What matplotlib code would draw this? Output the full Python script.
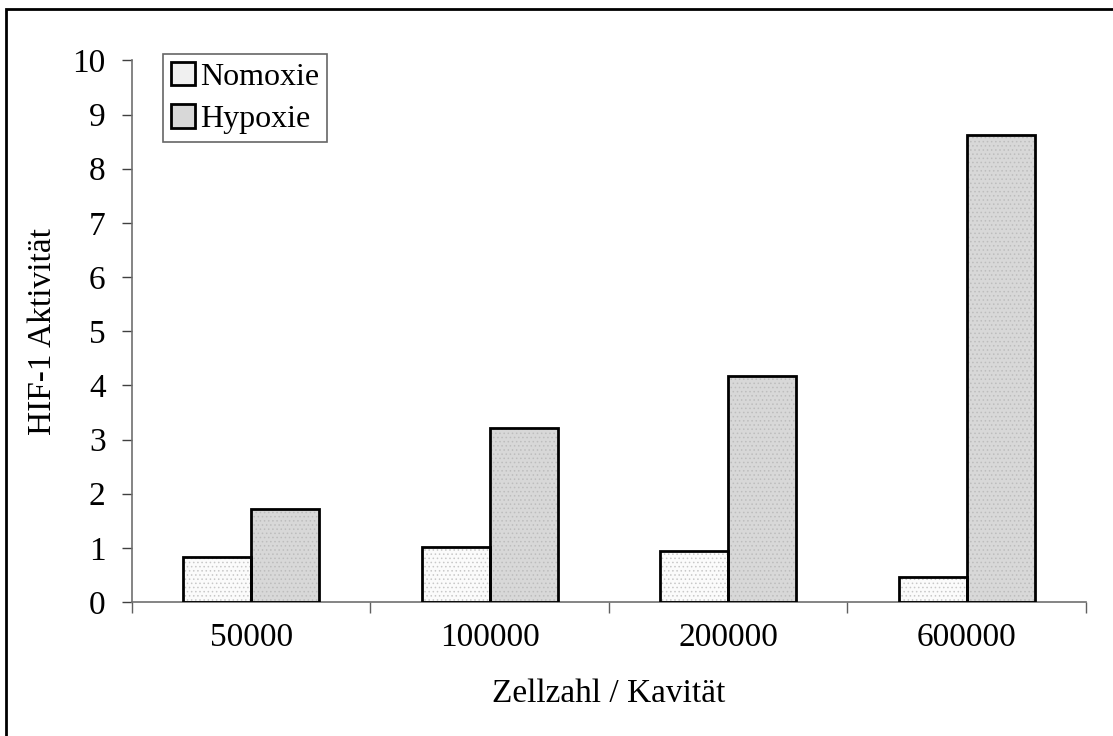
import numpy as np
import matplotlib
matplotlib.use("Agg")
import matplotlib.pyplot as plt
from matplotlib.patches import Rectangle, Patch

# Daten aus dem Diagramm
zellzahl = ["50000", "100000", "200000", "600000"]
nomoxie = [0.83, 1.02, 0.95, 0.47]
hypoxie = [1.72, 3.22, 4.17, 8.62]
y_ticks = list(range(0, 11))

plt.rcParams['font.family'] = ['Liberation Serif', 'DejaVu Serif']
plt.rcParams['hatch.linewidth'] = 0.6

fig = plt.figure(figsize=(11.13, 7.36), dpi=100)
ax = fig.add_axes([0.1186, 0.182, 0.8571, 0.736])

x = np.arange(len(zellzahl))
w = 0.286
fs = 24

# Füllung mit Punktmuster (Schraffur in grau), danach schwarzer Rahmen
ax.bar(x - w / 2, nomoxie, w, color='#fbfbfb', edgecolor='#c8c8c8',
       hatch='....', linewidth=0, zorder=2)
ax.bar(x + w / 2, hypoxie, w, color='#d8d8d8', edgecolor='#bdbdbd',
       hatch='....', linewidth=0, zorder=2)
ax.bar(x - w / 2, nomoxie, w, fill=False, edgecolor='black', linewidth=2, zorder=3)
ax.bar(x + w / 2, hypoxie, w, fill=False, edgecolor='black', linewidth=2, zorder=3)

ax.set_xlim(-0.5, len(zellzahl) - 0.5)
ax.set_ylim(0, 10)
ax.set_yticks(y_ticks)
ax.set_xticks(x)
ax.set_xticklabels(zellzahl)
ax.set_xticks(np.arange(-0.5, len(zellzahl)), minor=True)
ax.tick_params(axis='x', which='major', length=0, pad=15, labelsize=fs)
ax.tick_params(axis='x', which='minor', length=8, width=1, color='#606060', direction='out')
ax.tick_params(axis='y', length=7, width=1, color='#404040', pad=12, labelsize=fs)

for s in ['top', 'right']:
    ax.spines[s].set_visible(False)
for s in ['left', 'bottom']:
    ax.spines[s].set_color('#707070')
    ax.spines[s].set_linewidth(1.2)

ax.set_xlabel("Zellzahl / Kavität", fontsize=fs, labelpad=18)
ax.set_ylabel("HIF-1 Aktivität", fontsize=fs, labelpad=10)

handles = [Patch(facecolor='#f0f0f0', edgecolor='black', linewidth=2, label='Nomoxie'),
           Patch(facecolor='#d8d8d8', edgecolor='black', linewidth=2, label='Hypoxie')]
leg = ax.legend(handles=handles, loc='upper left', bbox_to_anchor=(0.033, 1.012),
                fontsize=23, frameon=True, fancybox=False, handlelength=0.75,
                handleheight=0.75, handletextpad=0.15, borderpad=0.25,
                labelspacing=0.4, borderaxespad=0)
leg.get_frame().set_edgecolor('#404040')
leg.get_frame().set_linewidth(1.2)

# Rahmen um die Grafik
fig.patches.append(Rectangle((6 / 1113, -0.1), 1.2, 1 - 9 / 736 + 0.1,
                             transform=fig.transFigure, fill=False,
                             edgecolor='black', linewidth=2))

fig.savefig("out.png", dpi=100)
